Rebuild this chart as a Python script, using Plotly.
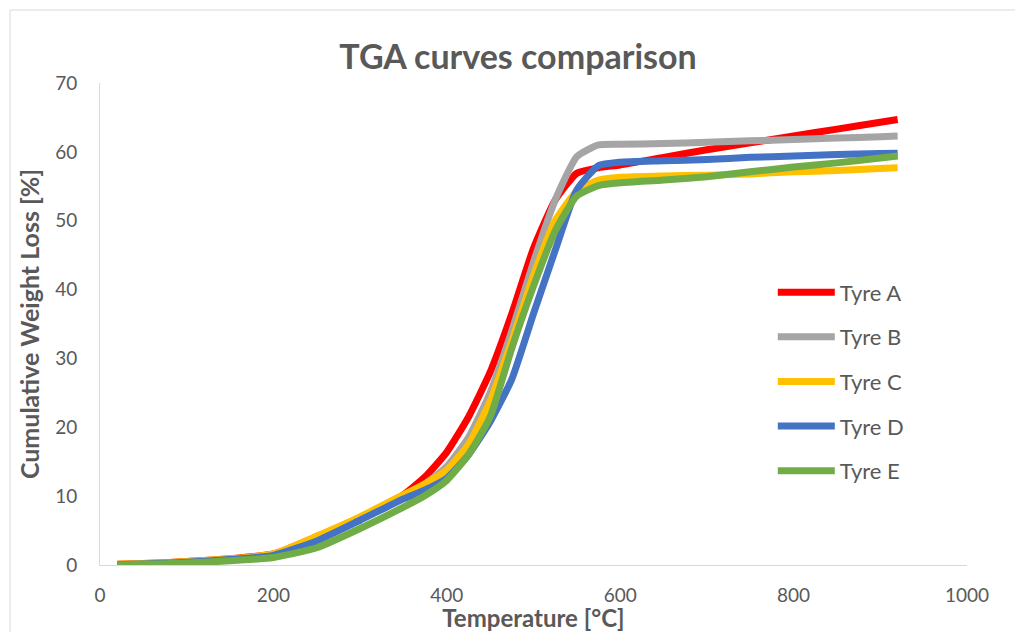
import plotly.graph_objects as go

temperature = [20, 50, 100, 150, 200, 250, 300, 350, 375, 400, 425, 450, 475, 500,
               525, 550, 575, 600, 650, 700, 750, 800, 850, 900, 920]

tyre_a = [0.1, 0.2, 0.5, 0.9, 1.6, 4.1, 6.9, 10.2, 12.8, 16.4, 21.5, 28.0, 36.5, 46.0,
          53.0, 56.9, 57.7, 58.1, 59.2, 60.3, 61.3, 62.3, 63.3, 64.3, 64.7]
tyre_b = [0.05, 0.15, 0.4, 0.8, 1.4, 3.6, 6.6, 9.8, 11.8, 14.3, 18.5, 25.0, 34.0, 44.0,
          53.0, 59.3, 61.0, 61.1, 61.2, 61.4, 61.6, 61.8, 62.0, 62.2, 62.3]
tyre_c = [0.1, 0.2, 0.5, 0.9, 1.6, 4.2, 7.0, 10.2, 11.8, 13.8, 17.5, 23.8, 32.5, 42.0,
          50.0, 54.3, 55.9, 56.3, 56.5, 56.6, 56.8, 57.1, 57.3, 57.6, 57.7]
tyre_d = [0.05, 0.15, 0.4, 0.8, 1.4, 3.5, 6.5, 9.6, 10.9, 12.6, 16.0, 20.8, 27.0, 36.5,
          45.7, 54.5, 58.0, 58.5, 58.7, 58.9, 59.2, 59.4, 59.6, 59.75, 59.8]
tyre_e = [0.0, 0.1, 0.3, 0.6, 1.1, 2.5, 5.3, 8.4, 10.1, 12.3, 16.0, 21.5, 31.5, 40.5,
          48.5, 53.6, 55.1, 55.5, 55.9, 56.4, 57.1, 57.8, 58.4, 59.1, 59.4]

names = ["Tyre A", "Tyre B", "Tyre C", "Tyre D", "Tyre E"]
series = [tyre_a, tyre_b, tyre_c, tyre_d, tyre_e]
colors = ["#FF0000", "#A5A5A5", "#FFC000", "#4472C4", "#70AD47"]

FONT = "Lato"
GREY = "#595959"

# page body adds an 8px offset; figure is sized to compensate
W, H = 1015, 624
L, T = 92, 75
PW, PH = 867, 482

fig = go.Figure()
for name, vals, col in zip(names, series, colors):
    fig.add_trace(go.Scatter(
        x=temperature, y=vals, name=name, mode="lines",
        line=dict(color=col, width=7, shape="spline", smoothing=0.5),
        legendgroup=name,
    ))

fig.update_layout(
    width=W, height=H,
    margin=dict(l=L, r=W - L - PW, t=T, b=H - T - PH, autoexpand=False),
    paper_bgcolor="white", plot_bgcolor="white",
    font=dict(family=FONT, color=GREY, size=19),
    title=dict(text="<b>TGA curves comparison</b>", x=510 / W, xanchor="center",
               y=1 - 49 / H, yanchor="middle", yref="container",
               font=dict(size=34, color=GREY, family=FONT)),
    showlegend=True,
    legend=dict(x=0.776, y=0.609, xanchor="left", yanchor="top",
                font=dict(size=22, color=GREY, family=FONT),
                itemwidth=57,
                tracegroupgap=13, bgcolor="rgba(0,0,0,0)"),
    shapes=[dict(type="rect", xref="paper", yref="paper",
                 x0=(2 - L) / PW, x1=(1013 - L) / PW,
                 y0=-0.3, y1=(T + PH - 2) / PH,
                 line=dict(color="#D9D9D9", width=1), layer="below")],
)

fig.update_xaxes(
    range=[0, 1000], dtick=200, tick0=0, showgrid=False, zeroline=False,
    showline=True, linecolor="#D9D9D9", linewidth=1, ticks="",
    ticklabelstandoff=13, automargin=False,
    title=dict(text="<b>Temperature [°C]</b>", font=dict(size=24, color=GREY, family=FONT),
               standoff=3),
)
fig.update_yaxes(
    range=[0, 70], dtick=10, tick0=0, showgrid=False, zeroline=False,
    showline=True, linecolor="#D9D9D9", linewidth=1, ticks="",
    ticklabelstandoff=18, automargin=False,
    title=dict(text="<b>Cumulative Weight Loss [%]</b>", font=dict(size=25, color=GREY, family=FONT),
               standoff=8),
)

fig.write_html("out.html")
